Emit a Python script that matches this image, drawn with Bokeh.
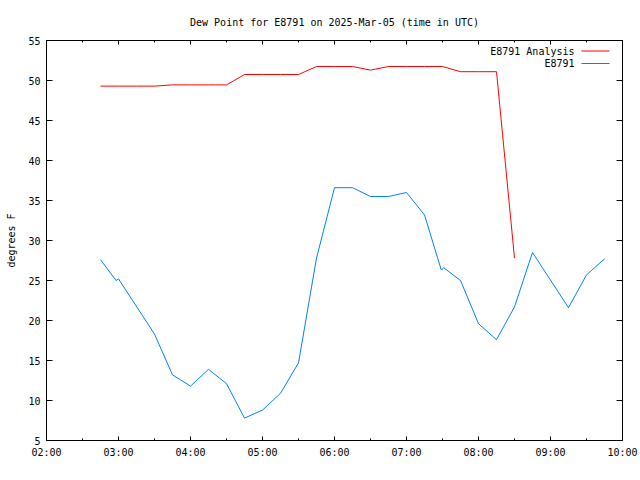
import pandas as pd
from bokeh.plotting import figure
from bokeh.models import (Range1d, FixedTicker, SingleIntervalTicker, LinearAxis,
                          DatetimeAxis, DatetimeTickFormatter, Label, BoxAnnotation)
from bokeh.embed import file_html
from bokeh.resources import INLINE

DAY = "2025-03-05"
title_text = "Dew Point for E8791 on 2025-Mar-05 (time in UTC)"
y_label = "degrees F"

analysis_name = "E8791 Analysis"
analysis_times = ["02:45", "03:00", "03:15", "03:30", "03:45", "04:00", "04:15", "04:30",
                  "04:45", "05:00", "05:15", "05:30", "05:45", "06:00", "06:15", "06:30",
                  "06:45", "07:00", "07:15", "07:30", "07:45", "08:00", "08:15", "08:30"]
analysis_vals = [49.3, 49.3, 49.3, 49.3, 49.45, 49.45, 49.45, 49.45,
                 50.75, 50.75, 50.75, 50.75, 51.75, 51.75, 51.75, 51.3,
                 51.75, 51.75, 51.75, 51.75, 51.1, 51.1, 51.1, 27.8]

obs_name = "E8791"
obs_times = ["02:45", "02:58", "03:00", "03:30", "03:45", "04:00", "04:15", "04:30",
             "04:45", "05:00", "05:15", "05:30", "05:45", "06:00", "06:15", "06:30",
             "06:45", "07:00", "07:15", "07:29", "07:31", "07:45", "08:00", "08:15",
             "08:30", "08:45", "09:15", "09:30", "09:45"]
obs_vals = [27.6, 25.0, 25.2, 18.3, 13.2, 11.8, 13.9, 12.1,
            7.8, 8.8, 10.9, 14.7, 27.8, 36.6, 36.6, 35.5,
            35.5, 36.0, 33.2, 26.3, 26.6, 25.0, 19.6, 17.6,
            21.7, 28.5, 21.6, 25.7, 27.7]

x_start, x_end = "02:00", "10:00"
y_start, y_end = 5, 55

FONT = "DejaVu Sans Mono"
RED = "#ff0000"
BLUE = "#0080ff"


def to_dt(ts):
    return pd.to_datetime([f"{DAY} {t}" for t in ts])


def ms(t):
    return pd.Timestamp(f"{DAY} {t}").value / 1e6


x0, x1 = ms(x_start), ms(x_end)
HOUR = 3600 * 1000.0
major = [x0 + i * HOUR for i in range(int(round((x1 - x0) / HOUR)) + 1)]
minor = [x0 + i * HOUR / 2 for i in range(int(round((x1 - x0) / (HOUR / 2))) + 1)]

p = figure(width=640, height=480, output_backend="svg", toolbar_location=None,
           x_axis_type="datetime",
           x_range=Range1d(pd.Timestamp(f"{DAY} {x_start}"), pd.Timestamp(f"{DAY} {x_end}")),
           y_range=Range1d(y_start, y_end),
           min_border_left=46, min_border_right=18, min_border_top=40, min_border_bottom=40)

p.background_fill_color = "white"
p.border_fill_color = "white"
p.outline_line_color = "black"
p.outline_line_width = 1
p.xgrid.visible = False
p.ygrid.visible = False

p.title.text = title_text
p.title.align = "center"
p.title.text_font = FONT
p.title.text_font_size = "10px"
p.title.text_font_style = "normal"
p.title.text_color = "black"
p.title.standoff = 25

xt = FixedTicker(ticks=major, minor_ticks=minor)
yt = SingleIntervalTicker(interval=5, num_minor_ticks=0)


def style_x(ax, labels=True):
    ax.ticker = xt
    ax.formatter = DatetimeTickFormatter(hours="%H:%M", minutes="%H:%M", hourmin="%H:%M")
    ax.axis_line_color = None
    ax.major_tick_in = 4
    ax.major_tick_out = 0
    ax.minor_tick_in = 2
    ax.minor_tick_out = 0
    ax.major_tick_line_color = "black"
    ax.minor_tick_line_color = "black"
    ax.major_label_text_font = FONT
    ax.major_label_text_font_size = "10px" if labels else "1px"
    ax.major_label_text_color = "black" if labels else None
    ax.major_label_standoff = 6 if labels else 0


def style_y(ax, labels=True):
    ax.ticker = yt
    ax.axis_line_color = None
    ax.major_tick_in = 6
    ax.major_tick_out = 0
    ax.minor_tick_line_color = None
    ax.major_tick_line_color = "black"
    ax.major_label_text_font = FONT
    ax.major_label_text_font_size = "10px" if labels else "1px"
    ax.major_label_text_color = "black" if labels else None
    ax.major_label_standoff = 6 if labels else 0


style_x(p.xaxis[0])
style_y(p.yaxis[0])
p.yaxis[0].axis_label = y_label
p.yaxis[0].axis_label_text_font = FONT
p.yaxis[0].axis_label_text_font_size = "10px"
p.yaxis[0].axis_label_text_font_style = "normal"
p.yaxis[0].axis_label_text_color = "black"
p.yaxis[0].axis_label_standoff = 8

top_ax = DatetimeAxis()
style_x(top_ax, labels=False)
p.add_layout(top_ax, "above")
right_ax = LinearAxis()
style_y(right_ax, labels=False)
p.add_layout(right_ax, "right")

p.line(to_dt(analysis_times), analysis_vals, line_color=RED, line_width=1)
p.line(to_dt(obs_times), obs_vals, line_color=BLUE, line_width=1)

# legend (gnuplot style: text then sample line)
for i, (name, col) in enumerate([(analysis_name, RED), (obs_name, BLUE)]):
    yc = 389.5 - i * 12.5
    p.add_layout(Label(x=528, y=yc, x_units="screen", y_units="screen", text=name,
                       text_font=FONT, text_font_size="10px", text_color="black",
                       text_align="right", text_baseline="middle"))
    p.add_layout(BoxAnnotation(left=535, right=563, bottom=yc - 0.5, top=yc + 0.5,
                               left_units="screen", right_units="screen",
                               bottom_units="screen", top_units="screen",
                               fill_color=col, fill_alpha=1, line_color=None))

open("out.html", "w").write(file_html(p, INLINE))
